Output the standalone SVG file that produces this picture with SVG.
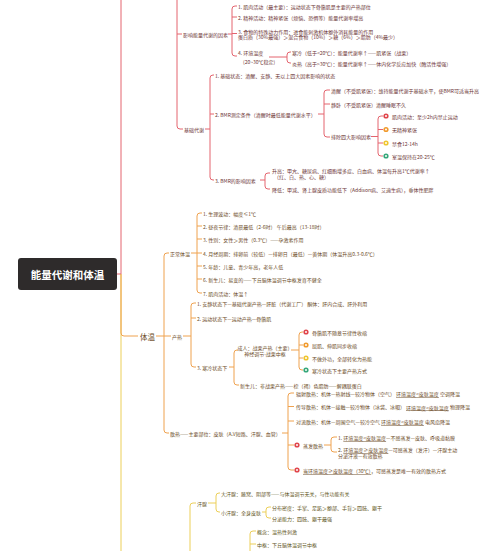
<svg xmlns="http://www.w3.org/2000/svg" width="500" height="551" viewBox="0 0 500 551">
<style>
.r{stroke:#e4646e;fill:none;stroke-width:1}
.o{stroke:#efa24f;fill:none;stroke-width:1}
.y{stroke:#eccf58;fill:none;stroke-width:1}
text{font-family:"Noto Sans CJK SC","Noto Sans",sans-serif;font-size:5px;dominant-baseline:central}
.tr{fill:#6b3434}
.to{fill:#6b4a26}
.ty{fill:#615521}
.u{text-decoration:underline}
.c{text-anchor:middle}
</style>
<defs>
<g id="icR"><circle r="2.6" fill="#e0454b"/><circle r="1" fill="#fff"/></g>
<g id="icO"><circle r="2.6" fill="#f19a2c"/><circle r="1" fill="#fff"/></g>
<g id="icY"><circle r="2.6" fill="#efc52e"/><circle r="1" fill="#fff"/></g>
<g id="icG"><circle r="2.6" fill="#35a77a"/><circle r="1" fill="#fff"/></g>
</defs>
<rect width="500" height="551" fill="#fff"/>

<g id="connectors">
<path class="y" d="M121,274 V551"/>
<path class="r" d="M117,274 H121 V0"/>
<path class="o" d="M121,274 V333 Q121,336 124,336 H138"/>
<!-- red section -->
<path class="r" d="M177,0 V126 Q177,129 180,129 H183"/>
<path class="r" d="M177,34 H182 M228,34 H232"/>
<path class="r" d="M237,6 H235 Q232,6 232,9 V53 Q232,56 235,56 H237 M232,17 H237 M232,33.5 H237"/>
<path class="r" d="M269,57 H287 M291,52 H290 Q287,52 287,55 V60 Q287,63 290,63 H291"/>
<path class="r" d="M205,129 H210 M214,75 H213 Q210,75 210,78 V177 Q210,180 213,180 H214 M210,114 H214"/>
<path class="r" d="M318,114 H324 M330,90 H327 Q324,90 324,93 V134 Q324,137 327,137 H330 M324,104 H330"/>
<path class="r" d="M371,136.5 H378 M383,116 H381 Q378,116 378,119 V153 Q378,156 381,156 H383 M378,129.5 H383 M378,143 H383"/>
<path class="r" d="M260,180 H265 M270,173 H268 Q265,173 265,176 V186 Q265,189 268,189 H270"/>
<!-- orange section -->
<path class="o" d="M156,336 H171 M169,253 H167 Q164,253 164,256 V430 Q164,433 167,433 H169"/>
<path class="o" d="M191,253 H197 M202,213 H200 Q197,213 197,216 V290 Q197,293 200,293 H202 M197,226 H202 M197,239 H202 M197,253 H202 M197,266 H202 M197,279 H202"/>
<path class="o" d="M183,336 H191 M196,303 H194 Q191,303 191,306 V364 Q191,367 194,367 H196 M191,318 H196"/>
<path class="o" d="M229,367 H234 M238,350 H237 Q234,350 234,353 V382 Q234,385 237,385 H239"/>
<path class="o" d="M291,350 H299 M303,332 H302 Q299,332 299,335 V367 Q299,370 302,370 H303 M299,345 H303 M299,358 H303"/>
<path class="o" d="M282,433 H288 M294,393 H291 Q288,393 288,396 V467 Q288,470 291,470 H294 M288,406.5 H294 M288,421 H294 M288,445 H294"/>
<path class="o" d="M324,445 H331 M337,437 H334 Q331,437 331,440 V449 Q331,452 334,452 H337"/>
<!-- yellow section -->
<path class="y" d="M196,503 H193 Q190,503 190,506 V551"/>
<path class="y" d="M208,503 H216 M220,493 H219 Q216,493 216,496 V509 Q216,512 219,512 H220"/>
<path class="y" d="M262,512 H266 M271,507 H269 Q266,507 266,510 V515 Q266,518 269,518 H271"/>
<path class="y" d="M256,531 H253 Q250,531 250,534 V551 M250,544 H256"/>
</g>

<g id="center"><rect x="18" y="258" width="99" height="32" rx="3" fill="#2e2b2b"/><text x="67.5" y="274" class="c" style="font-size:10.5px;font-weight:700;fill:#fff">能量代谢和体温</text></g>

<g id="n-yingxiang"><text class="tr" x="183" y="34">影响能量代谢的因素</text></g>
<g id="n-y1"><text class="tr" x="238" y="6">1. 肌肉活动（最主要）：运动状态下骨骼肌是主要的产热部位</text></g>
<g id="n-y2"><text class="tr" x="238" y="17">2. 精神活动：精神紧张（烦恼、恐惧等）能量代谢率增高</text></g>
<g id="n-y3"><text class="tr" x="238" y="31">3. 食物的特殊动力作用：进食能刺激机体额外消耗能量的作用</text><text class="tr" x="238" y="36.5">蛋白质（30%最强）＞混合食物（10%）＞糖（6%）＞脂肪（4%最少）</text></g>
<g id="n-y4"><text class="tr" x="238" y="52">4. 环境温度</text><text class="tr" x="243" y="61">(20~30℃稳定)</text></g>
<g id="n-cold"><text class="tr" x="292" y="52">寒冷（低于&lt;20℃）：能量代谢率↑——肌紧张（战栗）</text></g>
<g id="n-hot"><text class="tr" x="292" y="63">炎热（高于&gt;30℃）：能量代谢率↑——体内化学反应加快（酶活性增强）</text></g>

<g id="n-jichu"><text class="tr" x="184" y="129">基础代谢</text></g>
<g id="n-j1"><text class="tr" x="215" y="75">1. 基础状态：清醒、安静、无以上四大因素影响的状态</text></g>
<g id="n-j2"><text class="tr" x="215" y="114">2. BMR测定条件（清醒时最低能量代谢水平）</text></g>
<g id="n-j2a"><text class="tr" x="331" y="90">清醒（不受肌紧张）：维持能量代谢于基础水平，使BMR可适当升高</text></g>
<g id="n-j2b"><text class="tr" x="331" y="104">静卧（不受肌紧张）清醒睡眠不久</text></g>
<g id="n-j2c"><text class="tr" x="331" y="136.5">排除四大影响因素</text></g>
<g id="n-j2c1"><use href="#icR" x="386" y="116"/><text class="tr" x="392" y="116">肌肉活动：至少2h内禁止运动</text></g>
<g id="n-j2c2"><use href="#icO" x="386" y="129.5"/><text class="tr" x="392" y="129.5">无精神紧张</text></g>
<g id="n-j2c3"><use href="#icY" x="386" y="143"/><text class="tr" x="392" y="143">禁食12-14h</text></g>
<g id="n-j2c4"><use href="#icG" x="386" y="156"/><text class="tr" x="392" y="156">室温保持在20-25℃</text></g>
<g id="n-j3"><text class="tr" x="215" y="180">3. BMR的影响因素</text></g>
<g id="n-j3a"><text class="tr" x="272" y="170">升高：甲亢、糖尿病、红细胞增多症、白血病、体温每升高1℃代谢率↑</text><text class="tr" x="274" y="176.5">（红、白、热、心、糖）</text></g>
<g id="n-j3b"><text class="tr" x="272" y="189">降低：甲减、肾上腺皮质功能低下（Addison病、艾迪生病），垂体性肥胖</text></g>

<g id="n-tiwen"><text class="to" x="140" y="336" style="font-size:7.5px">体温</text></g>
<g id="n-zc"><text class="to" x="170" y="253">正常体温</text></g>
<g id="n-zc1"><text class="to" x="203" y="213">1. 生理波动：幅度≤1℃</text></g>
<g id="n-zc2"><text class="to" x="203" y="226">2. 昼夜节律：清晨最低（2-6时） 午后最高（13-18时）</text></g>
<g id="n-zc3"><text class="to" x="203" y="239">3. 性别：女性＞男性（0.3℃）——孕激素作用</text></g>
<g id="n-zc4"><text class="to" x="203" y="253">4. 月经周期：排卵前（较低）—排卵日（最低）—黄体期（体温升高0.3-0.6℃）</text></g>
<g id="n-zc5"><text class="to" x="203" y="266">5. 年龄：儿童、青少年高，老年人低</text></g>
<g id="n-zc6"><text class="to" x="203" y="279">6. 新生儿：易变的——下丘脑体温调节中枢发育不健全</text></g>
<g id="n-zc7"><text class="to" x="203" y="293">7. 肌肉活动：体温↑</text></g>

<g id="n-cr"><text class="to" x="172" y="336">产热</text></g>
<g id="n-cr1"><text class="to" x="197" y="303">1. 安静状态下—基础代谢产热—肝脏（代谢工厂） 酮体：肝内合成、肝外利用</text></g>
<g id="n-cr2"><text class="to" x="197" y="318">2. 运动状态下—运动产热—骨骼肌</text></g>
<g id="n-cr3"><text class="to" x="197" y="367">3. 寒冷状态下</text></g>
<g id="n-adult"><text class="to c" x="265" y="347">成人：战栗产热（主要）</text><text class="to c" x="265" y="353.5">神经调节-战栗中枢</text></g>
<g id="n-ad1"><use href="#icR" x="306" y="332"/><text class="to" x="312" y="332">骨骼肌不随意节律性收缩</text></g>
<g id="n-ad2"><use href="#icO" x="306" y="345"/><text class="to" x="312" y="345">屈肌、伸肌同步收缩</text></g>
<g id="n-ad3"><use href="#icY" x="306" y="358"/><text class="to" x="312" y="358">不做外功，全部转化为热能</text></g>
<g id="n-ad4"><use href="#icG" x="306" y="370"/><text class="to" x="312" y="370">寒冷状态下主要产热方式</text></g>
<g id="n-newborn"><text class="to" x="240" y="385">新生儿：非战栗产热——棕（褐）色脂肪——解耦联蛋白</text></g>

<g id="n-sr"><text class="to" x="170" y="433">散热——主要部位：皮肤（A.V短路、汗腺、血管）</text></g>
<g id="n-sr1"><text class="to" x="296" y="393">辐射散热：机体—热射线—较冷物体（空气） <tspan class="u">环境温度&lt;皮肤温度</tspan> 空调降温</text></g>
<g id="n-sr2"><text class="to" x="296" y="406.5">传导散热：机体—接触—较冷物体（冰袋、冰帽） <tspan class="u">环境温度&lt;皮肤温度</tspan> 物理降温</text></g>
<g id="n-sr3"><text class="to" x="296" y="421">对流散热：机体—周围空气—较冷空气 <tspan class="u">环境温度&lt;皮肤温度</tspan> 电风扇降温</text></g>
<g id="n-sr4"><use href="#icR" x="297" y="445"/><text class="to" x="303" y="445">蒸发散热</text></g>
<g id="n-sr4a"><text class="to" x="338" y="437">1. <tspan class="u">环境温度&lt;皮肤温度</tspan>—不感蒸发—皮肤、呼吸道黏膜</text></g>
<g id="n-sr4b"><text class="to" x="338" y="449">2. <tspan class="u">环境温度≥皮肤温度</tspan>—可感蒸发（发汗）—汗腺主动</text><text class="to" x="338" y="455.5">分泌汗液—有效散热</text></g>
<g id="n-sr5"><use href="#icR" x="297" y="470"/><text class="to" x="303" y="470"><tspan class="u">当环境温度≥皮肤温度（30℃）</tspan>，可感蒸发是唯一有效的散热方式</text></g>

<g id="n-hanxian"><text class="ty" x="197" y="503">汗腺</text></g>
<g id="n-hx1"><text class="ty" x="221" y="493">大汗腺：腋窝、阴部等——与体温调节无关，与性功能有关</text></g>
<g id="n-hx2"><text class="ty" x="221" y="512">小汗腺：全身皮肤</text></g>
<g id="n-hx2a"><text class="ty" x="272" y="507">分布密度：手掌、足跖＞额部、手背＞四肢、躯干</text></g>
<g id="n-hx2b"><text class="ty" x="272" y="518">分泌能力：四肢、躯干最强</text></g>
<g id="n-gn"><text class="ty" x="257" y="531">概念：温热性刺激</text></g>
<g id="n-zs"><text class="ty" x="257" y="544">中枢：下丘脑体温调节中枢</text></g>
</svg>
